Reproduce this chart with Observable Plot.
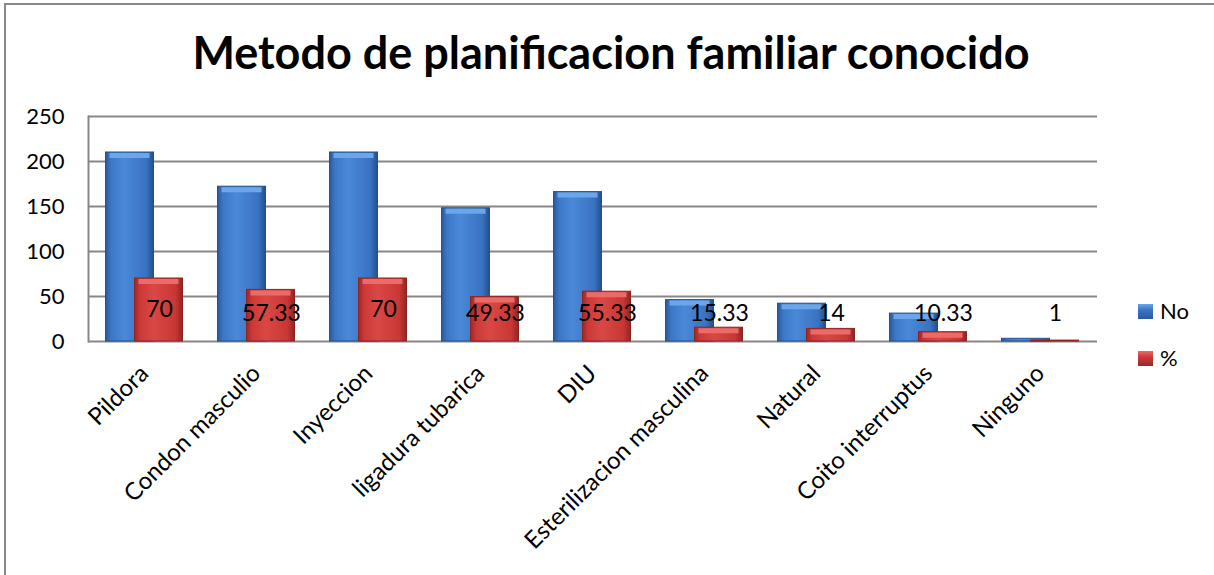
<!DOCTYPE html>
<html>
<head>
<meta charset="utf-8">
<script src="https://cdn.jsdelivr.net/npm/d3@7"></script>
<script src="https://cdn.jsdelivr.net/npm/@observablehq/plot@0.6"></script>
<style>
  html, body { margin: 0; padding: 0; background: #fff; }
  #wrap { position: relative; width: 1214px; height: 575px; overflow: hidden; font-family: Lato, "Open Sans", sans-serif; }
  #frame { position: absolute; left: 4px; top: 3px; width: 1214px; height: 600px; border-left: 2px solid #888; border-top: 2px solid #888; box-sizing: border-box; }
  #title { position: absolute; left: 0; width: 1222px; top: 30px; text-align: center; font-size: 45px; font-weight: bold; color: #000; line-height: 1; }
  #chart { position: absolute; left: 0; top: 0; }
  .leg { position: absolute; left: 1138px; font-size: 22px; line-height: 1; display: flex; align-items: center; }
  .sw { width: 15px; height: 15px; margin-right: 7px; }
</style>
</head>
<body>
<div id="wrap">
  <div id="frame"></div>
  <div id="chart"></div>
  <div id="title">Metodo de planificacion familiar conocido</div>
  <div class="leg" style="top:300px"><div class="sw" style="background:linear-gradient(180deg,#6aa7ec,#3b74c4 40%,#2a5a9c)"></div>No</div>
  <div class="leg" style="top:347px"><div class="sw" style="background:linear-gradient(180deg,#ee6a66,#cc3a37 40%,#9c2826)"></div>%</div>
</div>
<script>
const categories = ["Pildora", "Condon masculio", "Inyeccion", "ligadura tubarica", "DIU", "Esterilizacion masculina", "Natural", "Coito interruptus", "Ninguno"];
const seriesNo = [210, 172, 210, 148, 166, 46, 42, 31, 3];
const seriesPct = [70, 57.33, 70, 49.33, 55.33, 15.33, 14, 10.33, 1];
const pctLabels = ["70", "57.33", "70", "49.33", "55.33", "15.33", "14", "10.33", "1"];
const yTicks = [0, 50, 100, 150, 200, 250];

const noData = categories.map((c, i) => ({cat: c, v: seriesNo[i]}));
const pctData = categories.map((c, i) => ({cat: c, v: seriesPct[i], label: pctLabels[i]}));

const chart = Plot.plot({
  width: 1214,
  height: 575,
  marginLeft: 88,
  marginRight: 117,
  marginTop: 116,
  marginBottom: 234,
  style: {fontFamily: "Lato, 'Open Sans', sans-serif", fontSize: "22px", color: "#000", background: "transparent"},
  x: {domain: categories, paddingInner: 0.57, paddingOuter: 0.285, align: 0.5, label: null},
  y: {domain: [0, 250], ticks: yTicks, label: null},
  marks: [
    Plot.gridY(yTicks, {stroke: "#878787", strokeOpacity: 1, strokeWidth: 2}),
    Plot.frame({anchor: "left", stroke: "#878787", strokeWidth: 2}),
    Plot.axisY(yTicks, {tickSize: 0, tickPadding: 24, fontSize: 22, fill: "#000"}),
    Plot.axisX({tickSize: 0, tickRotate: -45, fontSize: 24, fill: "#000", tickPadding: 28}),
    Plot.barY(noData, {x: "cat", y: "v", fill: "url(#gBlue)", stroke: "#24508c", strokeWidth: 1, dx: -14.5}),
    Plot.tickY(noData.filter(d => d.v > 10), {x: "cat", y: "v", stroke: "#6ba6ea", strokeWidth: 5, dy: 3, dx: -14.5, inset: 4}),
    Plot.barY(pctData, {x: "cat", y: "v", fill: "url(#gRed)", stroke: "#8e2422", strokeWidth: 1, dx: 14.5}),
    Plot.tickY(pctData.filter(d => d.v > 10), {x: "cat", y: "v", stroke: "#ec6b67", strokeWidth: 5, dy: 3, dx: 14.5, inset: 4}),
    Plot.text(pctData, {x: "cat", y: d => Math.max(d.v / 2, 31), text: "label", dx: 15, fontSize: 23, fill: "#000"})
  ]
});

const svg = d3.select(chart);
const defs = svg.insert("defs", ":first-child");
function grad(id, stops) {
  const g = defs.append("linearGradient").attr("id", id).attr("x1", 0).attr("x2", 1).attr("y1", 0).attr("y2", 0);
  stops.forEach(([o, c]) => g.append("stop").attr("offset", o).attr("stop-color", c));
}
grad("gBlue", [[0, "#2a5a9c"], [0.12, "#3c78c8"], [0.4, "#4a88d8"], [0.85, "#3a72c0"], [1, "#23508e"]]);
grad("gRed", [[0, "#9c2826"], [0.12, "#cc3a37"], [0.4, "#da4845"], [0.85, "#c83734"], [1, "#922422"]]);

document.getElementById("chart").appendChild(chart);
</script>
</body>
</html>
